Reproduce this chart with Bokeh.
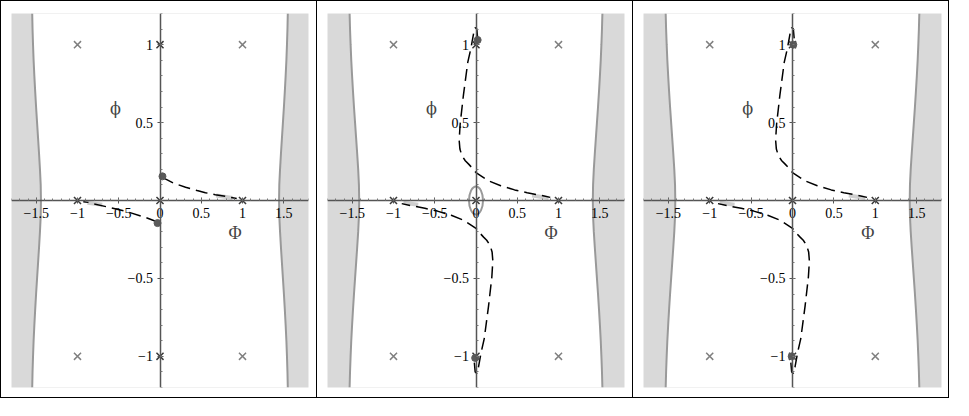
from bokeh.plotting import figure
from bokeh.layouts import row
from bokeh.models import Range1d, FixedTicker, Label
from bokeh.embed import file_html
from bokeh.resources import INLINE

# ---- data ----
x_ticks = [-1.5, -1, -0.5, 0, 0.5, 1, 1.5]
x_tick_labels = ["\u22121.5", "\u22121", "\u22120.5", "0", "0.5", "1", "1.5"]
x_minor = [round(-1.8 + 0.1 * i, 1) for i in range(37)]
y_ticks = [-1, -0.5, 0.5, 1]
y_tick_labels = ["\u22121", "\u22120.5", "0.5", "1"]
y_minor = [round(-1.2 + 0.1 * i, 1) for i in range(25)]

# boundary of shaded region (|Phi| of the curve at each phi)
bound_y = [-1.2, -1.1, -1.0, -0.9, -0.8, -0.7, -0.6, -0.5, -0.4, -0.3, -0.2, -0.1, 0.0,
           0.1, 0.2, 0.3, 0.4, 0.5, 0.6, 0.7, 0.8, 0.9, 1.0, 1.1, 1.2]
bound_x1 = [1.549, 1.545, 1.539, 1.532, 1.523, 1.513, 1.502, 1.490, 1.478, 1.466, 1.455, 1.446, 1.443,
            1.446, 1.455, 1.466, 1.478, 1.490, 1.502, 1.513, 1.523, 1.532, 1.539, 1.545, 1.549]
bound_x23 = [1.532, 1.527, 1.520, 1.512, 1.502, 1.491, 1.479, 1.466, 1.453, 1.440, 1.428, 1.419, 1.416,
             1.419, 1.428, 1.440, 1.453, 1.466, 1.479, 1.491, 1.502, 1.512, 1.520, 1.527, 1.532]

# equilibria
eq_corner_x = [-1, 1, -1, 1]
eq_corner_y = [1, 1, -1, -1]
eq_axis_x = [0, -1, 0, 1, 0]
eq_axis_y = [1, 0, 0, 0, -1]

# panel 1 trajectories
p1_up_x = [0.03, 0.07, 0.17, 0.31, 0.45, 0.55, 0.67, 0.79, 0.88, 0.93]
p1_up_y = [0.15, 0.137, 0.11, 0.085, 0.064, 0.05, 0.037, 0.027, 0.018, 0.013]
p1_lo_x = [-0.03, -0.07, -0.17, -0.41, -0.65, -0.80, -0.87, -0.93]
p1_lo_y = [-0.14, -0.13, -0.11, -0.07, -0.04, -0.022, -0.012, -0.008]
p1_dot_x = [0.03, -0.03]
p1_dot_y = [0.155, -0.145]

# panels 2 and 3 trajectories
p2_up_x = [0.02, 0.01, -0.01, -0.03, -0.06, -0.10, -0.152, -0.192, -0.204, -0.195, -0.172,
           -0.13, -0.092, -0.04, 0.0, 0.148, 0.3, 0.468, 0.62, 0.789, 0.9]
p2_up_y = [1.04, 1.10, 1.11, 1.07, 0.98, 0.886, 0.678, 0.491, 0.387, 0.33, 0.29,
           0.255, 0.235, 0.205, 0.179, 0.127, 0.095, 0.068, 0.05, 0.033, 0.02]
p2_lo_x = [-0.02, -0.01, 0.01, 0.03, 0.06, 0.10, 0.152, 0.192, 0.204, 0.195, 0.172,
           0.13, 0.092, 0.04, 0.0, -0.148, -0.3, -0.468, -0.62, -0.789, -0.9]
p2_lo_y = [-1.04, -1.10, -1.11, -1.07, -0.98, -0.886, -0.678, -0.491, -0.387, -0.33, -0.29,
           -0.255, -0.235, -0.205, -0.179, -0.127, -0.095, -0.068, -0.05, -0.033, -0.02]
p2_dot_x = [0.02, -0.01]
p2_dot_y = [1.03, -1.01]
p3_dot_x = [0.01, -0.01]
p3_dot_y = [1.0, -1.0]

# light grey pieces near the saddles
hl_up_x = [0.68, 0.88]
hl_up_y = [0.032, 0.016]
hl_lo_x = [-0.88, -0.70]
hl_lo_y = [-0.015, -0.027]

# circle around origin (panel 2)
circ_x = [0.0]
circ_y = [0.0]
circ_w = [0.17]
circ_h = [0.18]

FONT = "Liberation Serif"


def make_panel(bx, curves, dots, circle, width, last=False):
    border = {"border-left": "1px solid black", "border-top": "1px solid black",
              "border-bottom": "1px solid black"}
    if last:
        border["border-right"] = "1px solid black"
    p = figure(width=width, height=398, output_backend="svg", toolbar_location=None,
               x_range=Range1d(-1.8, 1.8), y_range=Range1d(-1.2, 1.2),
               min_border_left=10, min_border_right=9, min_border_top=12, min_border_bottom=12,
               styles=border)
    p.background_fill_color = "#d9d9d9"
    p.border_fill_color = "white"
    p.outline_line_color = None
    p.grid.visible = False

    # white interior region between the two boundary curves
    p.harea(x1=[-v for v in bx], x2=bx, y=bound_y, fill_color="white")
    p.line([-v for v in bx], bound_y, line_color="#999999", line_width=2)
    p.line(bx, bound_y, line_color="#999999", line_width=2)

    for hx, hy in [(hl_up_x, hl_up_y), (hl_lo_x, hl_lo_y)]:
        p.line(hx, hy, line_color="#cfcfcf", line_width=4)

    if circle:
        p.ellipse(x=circ_x, y=circ_y, width=circ_w, height=circ_h, fill_color=None,
                  line_color="#999999", line_width=2)

    for cx, cy in curves:
        p.line(cx, cy, line_color="black", line_width=1.5, line_dash="12 6")

    p.scatter(eq_corner_x, eq_corner_y, marker="x", size=10, line_color="#808080", line_width=1.5)
    p.scatter(eq_axis_x, eq_axis_y, marker="x", size=10, line_color="#3a3a3a", line_width=1.5)
    p.scatter(dots[0], dots[1], marker="circle", size=7, fill_color="#5a5a5a", line_color="#5a5a5a")

    # axes through origin
    for ax in (p.xaxis[0], p.yaxis[0]):
        ax.fixed_location = 0
        ax.axis_line_color = "#555555"
        ax.axis_line_width = 1.5
        ax.major_tick_line_color = "#555555"
        ax.minor_tick_line_color = "#777777"
        ax.major_tick_in = 3
        ax.major_tick_out = 3
        ax.minor_tick_in = 2
        ax.minor_tick_out = 0
        ax.major_label_text_font = FONT
        ax.major_label_text_font_size = "14px"
        ax.major_label_text_color = "black"
        ax.major_label_standoff = 4
    p.xaxis[0].ticker = FixedTicker(ticks=x_ticks, minor_ticks=x_minor)
    p.xaxis[0].major_label_overrides = {float(t): s for t, s in zip(x_ticks, x_tick_labels)}
    p.yaxis[0].ticker = FixedTicker(ticks=y_ticks, minor_ticks=y_minor)
    p.yaxis[0].major_label_overrides = {float(t): s for t, s in zip(y_ticks, y_tick_labels)}

    p.add_layout(Label(x=0.91, y=-0.21, text="\u03a6", text_font=FONT, text_font_size="18px",
                       text_align="center", text_baseline="middle"))
    p.add_layout(Label(x=-0.54, y=0.59, text="\u03d5", text_font="DejaVu Serif", text_font_size="16px",
                       text_align="center", text_baseline="middle"))
    return p


p1 = make_panel(bound_x1, [(p1_up_x, p1_up_y), (p1_lo_x, p1_lo_y)], (p1_dot_x, p1_dot_y), False, 316)
p2 = make_panel(bound_x23, [(p2_up_x, p2_up_y), (p2_lo_x, p2_lo_y)], (p2_dot_x, p2_dot_y), True, 316)
p3 = make_panel(bound_x23, [(p2_up_x, p2_up_y), (p2_lo_x, p2_lo_y)], (p3_dot_x, p3_dot_y), False, 317, last=True)

layout = row(p1, p2, p3)
open("out.html", "w").write(file_html(layout, INLINE))
